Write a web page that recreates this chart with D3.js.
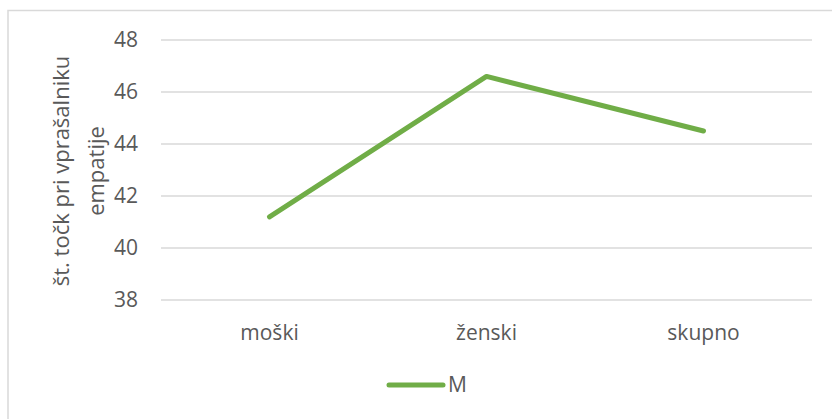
<!DOCTYPE html>
<html>
<head>
<meta charset="utf-8">
<script src="https://cdn.jsdelivr.net/npm/d3@7"></script>
<style>
  body { margin: 0; background: #fff; overflow: hidden; }
  svg { display: block; }
  text { font-family: "Open Sans", "Noto Sans", sans-serif; fill: #595959; }
</style>
</head>
<body>
<svg id="chart"></svg>
<script>
let categories = ['moški', 'ženski', 'skupno']
let values = [41.2, 46.6, 44.5]
let yTicks = [38, 40, 42, 44, 46, 48]
let seriesName = 'M'
let yTitle = ['št. točk pri vprašalniku', 'empatije']

let outerWidth = 832
let outerHeight = 419
let margins = { top: 40, left: 161, right: 20, bottom: 119 }
let innerWidth = 812 - margins.left
let innerHeight = 300 - margins.top

let svg = d3.select('#chart')
  .attr('width', outerWidth)
  .attr('height', outerHeight)

svg //border
  .append('rect')
  .attr('x', 8)
  .attr('y', 10.5)
  .attr('width', 840)
  .attr('height', 420)
  .attr('fill', 'none')
  .attr('stroke', '#d9d9d9')
  .attr('stroke-width', 1.5)

let inner = svg.append('g')
  .attr('transform', 'translate(' + margins.left + ',' + margins.top + ')')

let xScale = d3.scaleBand()
  .domain(categories)
  .range([0, innerWidth])

let yScale = d3.scaleLinear()
  .domain([38, 48])
  .range([innerHeight, 0])

// gridlines
inner.append('g')
  .selectAll('line')
  .data(yTicks)
  .enter()
  .append('line')
  .attr('x1', 0)
  .attr('x2', innerWidth)
  .attr('y1', d => yScale(d))
  .attr('y2', d => yScale(d))
  .attr('stroke', '#d9d9d9')
  .attr('stroke-width', 1.3)

// y axis labels
let yAxis = d3.axisLeft(yScale).tickValues(yTicks).tickSize(0).tickPadding(23)
inner.append('g')
  .call(yAxis)
  .attr('font-size', 21)
  .attr('font-family', null)
  .call(g => g.select('.domain').remove())
  .selectAll('text')
  .attr('fill', '#595959')

// x axis labels
let xAxis = d3.axisBottom(xScale).tickSize(0).tickPadding(25)
inner.append('g')
  .attr('transform', 'translate(0,' + innerHeight + ')')
  .call(xAxis)
  .attr('font-size', 21)
  .attr('font-family', null)
  .call(g => g.select('.domain').remove())
  .selectAll('text')
  .attr('fill', '#595959')

// line
let lineGen = d3.line()
  .x((d, i) => xScale(categories[i]) + xScale.bandwidth() / 2)
  .y(d => yScale(d))

inner.append('path')
  .attr('d', lineGen(values))
  .attr('fill', 'none')
  .attr('stroke', '#70ad47')
  .attr('stroke-width', 5)
  .attr('stroke-linecap', 'round')
  .attr('stroke-linejoin', 'round')

// y title
let titleG = svg.append('g')
  .attr('transform', 'translate(0,171) rotate(-90)')
titleG.selectAll('text')
  .data(yTitle)
  .enter()
  .append('text')
  .attr('x', 0)
  .attr('y', (d, i) => 69 + i * 35)
  .attr('text-anchor', 'middle')
  .attr('font-size', 22)
  .text(d => d)

// legend
svg.append('line')
  .attr('x1', 389)
  .attr('x2', 443)
  .attr('y1', 385)
  .attr('y2', 385)
  .attr('stroke', '#70ad47')
  .attr('stroke-width', 5)
  .attr('stroke-linecap', 'round')

svg.append('text')
  .attr('x', 448)
  .attr('y', 392)
  .attr('font-size', 21)
  .text(seriesName)
</script>
</body>
</html>
